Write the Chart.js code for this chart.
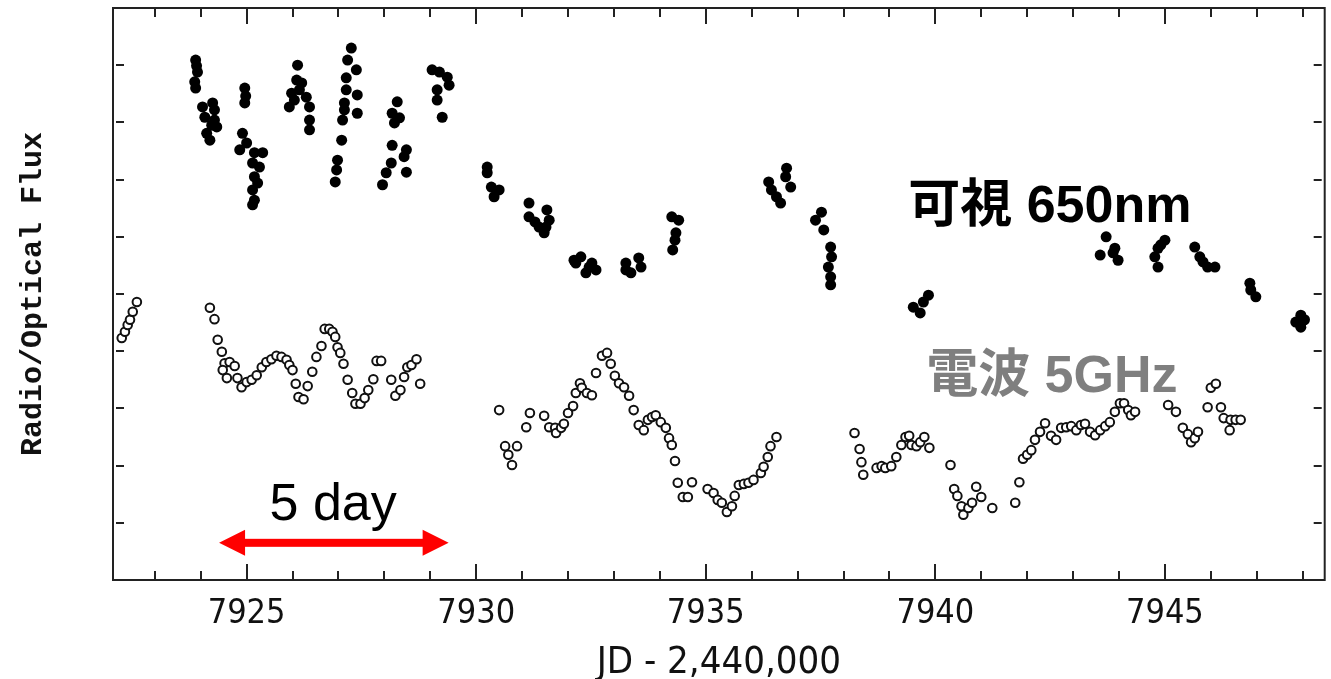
<!DOCTYPE html>
<html>
<head>
<meta charset="utf-8">
<script src="https://cdn.jsdelivr.net/npm/chart.js@4"></script>
<style>
  html, body { margin: 0; padding: 0; background: #fff; }
  #wrap { width: 1331px; height: 679px; }
</style>
</head>
<body>
<div id="wrap"><canvas id="myChart" width="1331" height="679"></canvas></div>
<script>
// Optical (650nm) flux, filled dots: JD-2440000 and relative flux
const opticalDays = [
  7923.89, 7923.91, 7923.93, 7923.87, 7923.89, 7924.04, 7924.26, 7924.30, 7924.09, 7924.30, 7924.35, 7924.13, 7924.20, 7924.24,
  7924.96, 7924.98, 7924.96, 7924.91, 7924.85, 7925.00, 7925.17, 7925.35, 7925.13, 7925.28, 7925.17, 7925.13, 7925.17, 7925.13, 7925.24,
  7926.11, 7926.09, 7926.20, 7925.98, 7925.93, 7926.04, 7926.30, 7926.37, 7926.37, 7926.37, 7926.15,
  7927.28, 7927.20, 7927.39, 7927.17, 7927.17, 7927.41, 7927.13, 7927.13, 7927.41, 7927.09, 7927.07, 7926.98, 7926.96, 7926.93,
  7928.28, 7928.17, 7928.33, 7928.22, 7928.17, 7928.48, 7928.43, 7928.15, 7928.48, 7928.04, 7927.96,
  7929.04, 7929.20, 7929.37, 7929.41, 7929.15, 7929.15, 7929.26,
  7930.24, 7930.24, 7930.33, 7930.50, 7930.39,
  7931.15, 7931.15, 7931.37, 7931.48, 7931.54, 7931.59, 7931.52, 7931.28,
  7932.13, 7932.28, 7932.46, 7932.61, 7932.39, 7932.17, 7932.52,
  7933.26, 7933.37, 7933.54, 7933.59, 7933.26,
  7934.26, 7934.41, 7934.35, 7934.33, 7934.28,
  7936.76, 7936.74, 7936.85, 7936.37, 7936.43, 7936.54, 7936.63,
  7937.52, 7937.39, 7937.57, 7937.72, 7937.74, 7937.67, 7937.72, 7937.72,
  7939.85, 7939.74, 7939.52, 7939.67,
  7943.72, 7943.59, 7943.87, 7943.98, 7943.91,
  7945.00, 7944.85, 7944.78, 7944.85, 7944.91,
  7945.65, 7945.76, 7945.93, 7946.09, 7945.83,
  7946.85, 7946.87, 7946.98,
  7947.96, 7947.85, 7947.96, 7948.04
];
const opticalFlux = [
  9.09, 8.99, 8.88, 8.71, 8.60, 8.27, 8.34, 8.22, 8.09, 8.04, 7.92, 7.81, 7.69, 7.95,
  8.60, 8.46, 8.34, 7.81, 7.52, 7.64, 7.47, 7.47, 7.29, 7.22, 7.05, 6.82, 6.64, 6.56, 6.94,
  9.00, 8.74, 8.69, 8.51, 8.27, 8.39, 8.44, 8.27, 8.04, 7.87, 8.57,
  9.30, 9.09, 8.92, 8.78, 8.57, 8.48, 8.34, 8.22, 8.16, 8.04, 7.69, 7.34, 7.17, 6.96,
  8.36, 8.16, 8.08, 7.99, 7.60, 7.52, 7.40, 7.29, 7.13, 7.12, 6.91,
  8.92, 8.88, 8.79, 8.65, 8.57, 8.39, 8.09,
  7.22, 7.12, 6.87, 6.82, 6.70,
  6.59, 6.35, 6.17, 6.07, 6.47, 6.29, 6.17, 6.26,
  5.59, 5.65, 5.47, 5.42, 5.37, 5.54, 5.54,
  5.54, 5.37, 5.63, 5.47, 5.42,
  6.35, 6.29, 6.07, 5.94, 5.77,
  7.20, 7.05, 6.87, 6.96, 6.82, 6.70, 6.59,
  6.43, 6.29, 6.12, 5.82, 5.65, 5.47, 5.30, 5.16,
  4.98, 4.86, 4.77, 4.67,
  6.00, 5.68, 5.72, 5.59, 5.80,
  5.94, 5.80, 5.65, 5.47, 5.86,
  5.82, 5.65, 5.47, 5.47, 5.56,
  5.19, 5.07, 4.95,
  4.63, 4.51, 4.42, 4.55
];

// Radio (5GHz) flux, open circles
const radioDays = [
  7922.28, 7922.35, 7922.41, 7922.46, 7922.52, 7922.61,
  7924.20, 7924.30, 7924.37, 7924.46, 7924.52, 7924.48, 7924.57, 7924.63, 7924.74, 7924.80, 7924.89, 7925.00,
  7925.11, 7925.22, 7925.33, 7925.43, 7925.54, 7925.65, 7925.76, 7925.87, 7925.93, 7926.00, 7926.07, 7926.13,
  7926.24, 7926.33, 7926.43, 7926.52, 7926.63, 7926.70, 7926.80, 7926.87, 7926.93, 7926.98, 7927.04, 7927.11,
  7927.20, 7927.30, 7927.37, 7927.48, 7927.57, 7927.65, 7927.76, 7927.83, 7927.93, 7928.15, 7928.24, 7928.35,
  7928.43, 7928.50, 7928.59, 7928.70, 7928.78,
  7930.50, 7930.63, 7930.70, 7930.78, 7930.89, 7931.09, 7931.17, 7931.48, 7931.59, 7931.72, 7931.74, 7931.85,
  7931.91, 7932.00, 7932.11, 7932.17, 7932.26, 7932.30, 7932.41, 7932.52, 7932.61, 7932.74, 7932.85, 7932.93,
  7933.02, 7933.11, 7933.22, 7933.33, 7933.43, 7933.54, 7933.65, 7933.74, 7933.83, 7933.91, 7934.02, 7934.13,
  7934.20, 7934.26, 7934.33, 7934.39, 7934.50, 7934.61, 7934.70, 7935.04, 7935.17, 7935.26, 7935.35, 7935.46,
  7935.57, 7935.63, 7935.72, 7935.83, 7935.93, 7936.04, 7936.20, 7936.26, 7936.35, 7936.41, 7936.54,
  7938.24, 7938.35, 7938.39, 7938.43, 7938.72, 7938.83, 7938.91, 7939.04, 7939.15, 7939.26, 7939.35, 7939.43,
  7939.48, 7939.59, 7939.67, 7939.76, 7939.87,
  7940.33, 7940.41, 7940.48, 7940.57, 7940.61, 7940.72, 7940.80, 7940.89, 7941.00, 7941.24,
  7941.74, 7941.83, 7941.91, 7942.00, 7942.09, 7942.17, 7942.28, 7942.39, 7942.52, 7942.63, 7942.74, 7942.85,
  7942.96, 7943.07, 7943.17, 7943.26, 7943.37, 7943.48, 7943.59, 7943.70, 7943.80, 7943.91, 7944.02, 7944.11,
  7944.20, 7944.26, 7944.35,
  7945.07, 7945.24, 7945.39, 7945.50, 7945.57, 7945.65, 7945.72,
  7946.00, 7946.11, 7945.93, 7946.22, 7946.28, 7946.41, 7946.43, 7946.54, 7946.65
];
const radioFlux = [
  4.23, 4.34, 4.46, 4.55, 4.69, 4.86,
  4.76, 4.56, 4.20, 3.99, 3.79, 3.67, 3.53, 3.81, 3.74, 3.53, 3.37, 3.46,
  3.50, 3.58, 3.72, 3.81, 3.86, 3.92, 3.90, 3.85, 3.76, 3.67, 3.43, 3.20,
  3.16, 3.39, 3.64, 3.90, 4.09, 4.39, 4.39, 4.34, 4.25, 4.07, 3.97, 3.78,
  3.50, 3.27, 3.08, 3.08, 3.18, 3.32, 3.51, 3.83, 3.83, 3.50, 3.22, 3.32,
  3.55, 3.72, 3.76, 3.86, 3.43,
  2.97, 2.34, 2.19, 2.01, 2.34, 2.67, 2.92, 2.87, 2.67, 2.66, 2.57, 2.66,
  2.73, 2.92, 3.04, 3.27, 3.44, 3.36, 3.27, 3.23, 3.62, 3.92, 3.97, 3.78,
  3.57, 3.44, 3.37, 3.22, 2.97, 2.71, 2.62, 2.80, 2.85, 2.88, 2.76, 2.66,
  2.48, 2.36, 2.08, 1.70, 1.45, 1.45, 1.71, 1.59, 1.52, 1.40, 1.35, 1.19,
  1.29, 1.47, 1.66, 1.68, 1.70, 1.75, 1.87, 1.98, 2.15, 2.34, 2.50,
  2.57, 2.29, 2.06, 1.84, 1.96, 1.99, 1.96, 1.99, 2.15, 2.36, 2.50, 2.52,
  2.36, 2.34, 2.41, 2.50, 2.31,
  2.01, 1.59, 1.47, 1.29, 1.14, 1.26, 1.35, 1.63, 1.45, 1.26,
  1.35, 1.71, 2.12, 2.19, 2.27, 2.45, 2.59, 2.74, 2.52, 2.45, 2.66, 2.67,
  2.69, 2.62, 2.71, 2.73, 2.59, 2.53, 2.62, 2.69, 2.76, 2.94, 3.09, 3.09,
  2.97, 2.88, 2.94,
  3.06, 2.94, 2.66, 2.55, 2.41, 2.48, 2.59,
  3.36, 3.43, 3.02, 3.02, 2.83, 2.62, 2.80, 2.80, 2.80
];

const xTickDays = [7925, 7930, 7935, 7940, 7945];
const xMinorDays = [7923, 7924, 7925, 7926, 7927, 7928, 7929, 7930, 7931, 7932, 7933, 7934, 7935,
  7936, 7937, 7938, 7939, 7940, 7941, 7942, 7943, 7944, 7945, 7946, 7947, 7948];
const yTickLevels = [1, 2, 3, 4, 5, 6, 7, 8, 9];

const toPoints = (xs, ys) => xs.map((d, i) => ({x: d, y: ys[i]}));

// frame with inward ticks on all four sides
const framePlugin = {
  id: 'frame',
  afterDatasetsDraw(chart) {
    const {ctx, chartArea: a, scales: {x, y}} = chart;
    ctx.save();
    ctx.strokeStyle = '#222';
    ctx.lineWidth = 2;
    ctx.strokeRect(a.left, a.top, a.right - a.left, a.bottom - a.top);
    ctx.beginPath();
    yTickLevels.forEach(v => {
      const py = Math.round(y.getPixelForValue(v));
      ctx.moveTo(a.left + 3, py); ctx.lineTo(a.left + 11, py);
      ctx.moveTo(a.right - 3, py); ctx.lineTo(a.right - 11, py);
    });
    xMinorDays.forEach(d => {
      const px = Math.round(x.getPixelForValue(d));
      const len = xTickDays.includes(d) ? 16 : 9;
      ctx.moveTo(px, a.bottom); ctx.lineTo(px, a.bottom - len);
      ctx.moveTo(px, a.top); ctx.lineTo(px, a.top + len);
    });
    ctx.stroke();
    ctx.restore();
  }
};

// labels and the 5 day arrow
const notesPlugin = {
  id: 'notes',
  afterDraw(chart) {
    const {ctx, scales: {x, y}} = chart;
    ctx.save();
    ctx.textAlign = 'left';
    ctx.textBaseline = 'alphabetic';
    ctx.font = 'bold 52px "Liberation Sans", "Noto Sans CJK JP", sans-serif';
    ctx.fillStyle = '#000';
    ctx.fillText('可視 650nm', x.getPixelForValue(7939.41), y.getPixelForValue(6.26));
    ctx.fillStyle = '#7f7f7f';
    ctx.fillText('電波 5GHz', x.getPixelForValue(7939.80), y.getPixelForValue(3.29));
    ctx.font = '52px "Liberation Sans", sans-serif';
    ctx.fillStyle = '#000';
    ctx.fillText('5 day', x.getPixelForValue(7925.5), y.getPixelForValue(1.05));

    const x0 = x.getPixelForValue(7924.4);
    const x1 = x.getPixelForValue(7929.4);
    const ay = y.getPixelForValue(0.65);
    ctx.fillStyle = '#ff0000';
    ctx.fillRect(x0 + 20, ay - 4, x1 - x0 - 40, 8);
    ctx.beginPath();
    ctx.moveTo(x0, ay); ctx.lineTo(x0 + 26, ay - 13); ctx.lineTo(x0 + 26, ay + 13); ctx.closePath();
    ctx.moveTo(x1, ay); ctx.lineTo(x1 - 26, ay - 13); ctx.lineTo(x1 - 26, ay + 13); ctx.closePath();
    ctx.fill();
    ctx.restore();
  }
};

const config = {
  type: 'scatter',
  data: {
    datasets: [
      {
        label: 'Radio 5GHz',
        data: toPoints(radioDays, radioFlux),
        pointRadius: 4.3,
        pointBorderWidth: 2,
        pointBorderColor: '#111',
        pointBackgroundColor: '#fff'
      },
      {
        label: 'Optical 650nm',
        data: toPoints(opticalDays, opticalFlux),
        pointRadius: 5.5,
        pointBorderWidth: 0,
        pointBackgroundColor: '#000',
        pointBorderColor: '#000'
      }
    ]
  },
  options: {
    responsive: false,
    animation: false,
    layout: { padding: { top: 8, right: 4, left: 0, bottom: 0 } },
    plugins: { legend: { display: false }, tooltip: { enabled: false } },
    scales: {
      x: {
        type: 'linear',
        min: 7922.09,
        max: 7948.48,
        afterBuildTicks: s => { s.ticks = xTickDays.map(v => ({ value: v })); },
        afterFit: s => { s.height = 99; },
        grid: { display: false, drawTicks: false },
        border: { display: false },
        ticks: {
          autoSkip: false,
          maxRotation: 0,
          padding: 14,
          color: '#111',
          callback: v => String(v),
          font: { family: '"Liberation Sans Narrow", "DejaVu Sans Condensed", sans-serif', size: 34 }
        },
        title: {
          display: true,
          text: 'JD - 2,440,000',
          color: '#111',
          padding: { top: 0, bottom: 0 },
          font: { family: '"Liberation Sans Narrow", "DejaVu Sans Condensed", sans-serif', size: 38, lineHeight: 0.85 }
        }
      },
      y: {
        min: 0,
        max: 10,
        afterBuildTicks: s => { s.ticks = yTickLevels.map(v => ({ value: v })); },
        afterFit: s => { s.width = 113; },
        grid: { display: false, drawTicks: false },
        border: { display: false },
        ticks: { display: false },
        title: {
          display: true,
          text: 'Radio/Optical Flux',
          color: '#111',
          padding: { top: 18, bottom: 0 },
          font: { family: '"Liberation Mono", monospace', size: 30, weight: 'bold', lineHeight: 1 }
        }
      }
    }
  },
  plugins: [framePlugin, notesPlugin]
};

const myChart = new Chart(document.getElementById('myChart'), config);
</script>
</body>
</html>
